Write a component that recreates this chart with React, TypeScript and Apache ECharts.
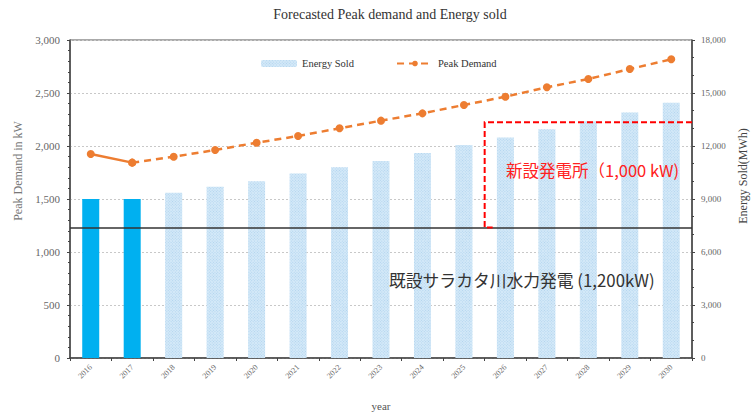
import React, { useEffect, useRef } from "react";
import * as echarts from "echarts";

const years = ["2016", "2017", "2018", "2019", "2020", "2021", "2022", "2023", "2024", "2025", "2026", "2027", "2028", "2029", "2030"];
const energySold = [9000, 9000, 9350, 9700, 10000, 10450, 10800, 11150, 11600, 12050, 12480, 12950, 13400, 13900, 14450];
const peakDemand = [1925, 1843, 1899, 1962, 2031, 2094, 2167, 2239, 2308, 2387, 2465, 2554, 2632, 2726, 2818];
const actualCount = 2;
const existingLevel = 1230;
const newPlantTop = 2224;
const newPlantFromYear = "2025";
const title = "Forecasted Peak demand and Energy sold";
const newPlantLabel = "新設発電所（1,000 kW)";
const existingLabel = "既設サラカタ川水力発電 (1,200kW)";

const SERIF = "'Liberation Serif', 'DejaVu Serif', serif";
const SANS = "'Noto Sans CJK JP', 'Liberation Sans', sans-serif";

const hatch = {
  symbol: "rect",
  symbolSize: 1,
  color: "rgba(110,170,220,0.35)",
  dashArrayX: [1, 1],
  dashArrayY: [1, 1],
  rotation: Math.PI / 4,
};

export default function App() {
  const ref = useRef<HTMLDivElement>(null);
  useEffect(() => {
    if (!ref.current) return;
    const chart = echarts.init(ref.current, undefined, { renderer: "svg" });
    const actualLine = peakDemand.map((v, i) => (i < actualCount ? v : null));
    const forecastLine = peakDemand.map((v, i) => (i >= actualCount - 1 ? v : null));
    chart.setOption({
      animation: false,
      backgroundColor: "#fff",
      title: {
        text: title,
        left: 385,
        textAlign: "center",
        top: 2,
        textStyle: { fontFamily: SERIF, fontSize: 14, fontWeight: "normal", color: "#333" },
      },
      legend: {
        left: 256,
        top: 53,
        itemWidth: 36,
        itemHeight: 7,
        itemGap: 42,
        data: ["Energy Sold", "Peak Demand"],
        textStyle: { fontFamily: SERIF, fontSize: 10.5, color: "#333" },
      },
      grid: {
        left: 70,
        right: 60,
        top: 40,
        bottom: 58,
        show: true,
        borderColor: "#555",
        borderWidth: 1,
        containLabel: false,
        outerBoundsMode: "none",
      },
      xAxis: {
        type: "category",
        data: years,
        name: "year",
        nameLocation: "middle",
        nameGap: 42,
        nameTextStyle: { fontFamily: SERIF, fontSize: 11, color: "#555" },
        axisLine: { lineStyle: { color: "#444", width: 1.5 } },
        axisTick: { show: true, length: 3, lineStyle: { color: "#444" } },
        axisLabel: { rotate: 45, fontFamily: SERIF, fontSize: 8, color: "#666", margin: 8 },
      },
      yAxis: [
        {
          type: "value",
          min: 0,
          max: 3000,
          interval: 500,
          name: "Peak Demand in kW",
          nameLocation: "middle",
          nameRotate: 90,
          nameGap: 42,
          nameTextStyle: { fontFamily: SERIF, fontSize: 12, color: "#777", padding: [0, 0, 0, 56] },
          axisLine: { show: true, lineStyle: { color: "#444", width: 1.5 } },
          axisTick: { show: true, length: 3, lineStyle: { color: "#444" } },
          minorTick: { show: true, splitNumber: 5, length: 2, lineStyle: { color: "#444" } },
          axisLabel: {
            fontFamily: SERIF,
            fontSize: 11,
            color: "#666",
            margin: 10,
            formatter: (v: number) => v.toLocaleString("en-US"),
          },
          splitLine: { show: true, lineStyle: { color: "#c8c8c8", type: [2, 2] } },
        },
        {
          type: "value",
          min: 0,
          max: 18000,
          interval: 3000,
          position: "right",
          name: "Energy Sold(MWh)",
          nameLocation: "middle",
          nameRotate: 90,
          nameGap: 42,
          nameTextStyle: { fontFamily: SERIF, fontSize: 12, color: "#444", padding: [0, 0, 0, 46] },
          axisLine: { show: true, lineStyle: { color: "#444", width: 1.5 } },
          axisTick: { show: true, length: 3, lineStyle: { color: "#444" } },
          minorTick: { show: true, splitNumber: 3, length: 2, lineStyle: { color: "#444" } },
          axisLabel: {
            fontFamily: SERIF,
            fontSize: 9,
            color: "#666",
            margin: 9,
            formatter: (v: number) => v.toLocaleString("en-US"),
          },
          splitLine: { show: false },
        },
      ],
      series: [
        {
          name: "Energy Sold",
          type: "bar",
          yAxisIndex: 1,
          barWidth: 17,
          itemStyle: { color: "#d4e9f8", decal: hatch },
          data: energySold.map((v, i) =>
            i < actualCount ? { value: v, itemStyle: { color: "#00b0f0", decal: { symbol: "none" } } } : v
          ),
          z: 2,
        },
        {
          name: "Peak Demand Actual",
          type: "line",
          yAxisIndex: 0,
          data: actualLine,
          symbol: "circle",
          symbolSize: 8,
          lineStyle: { color: "#ed7d31", width: 2.5, type: "solid" },
          itemStyle: { color: "#ed7d31" },
          z: 4,
          markLine: {
            silent: true,
            symbol: "none",
            label: { show: false },
            lineStyle: { color: "#333", width: 1.5, type: "solid" },
            data: [{ yAxis: existingLevel }],
          },
        },
        {
          name: "Peak Demand",
          type: "line",
          yAxisIndex: 0,
          data: forecastLine,
          symbol: "circle",
          symbolSize: 8,
          lineStyle: { color: "#ed7d31", width: 2.5, type: [7, 5] },
          itemStyle: { color: "#ed7d31" },
          z: 5,
        },
      ],
    });

    const xOf = (c: string) => chart.convertToPixel({ xAxisIndex: 0 }, c) as number;
    const yOf = (v: number) => chart.convertToPixel({ yAxisIndex: 0 }, v) as number;
    const idx = years.indexOf(newPlantFromYear);
    const band = xOf(years[1]) - xOf(years[0]);
    const xb = (xOf(years[idx]) + xOf(years[idx + 1])) / 2;
    const xr = xOf(years[years.length - 1]) + band / 2;
    const yt = yOf(newPlantTop);
    const yb = yOf(existingLevel);

    chart.setOption({
      graphic: [
        {
          type: "polyline",
          z: 10,
          shape: { points: [[xr, yt], [xb, yt], [xb, yb], [xb + 8, yb]] },
          style: { stroke: "#ff0000", lineWidth: 2, lineDash: [6, 3], fill: null },
        },
        {
          type: "text",
          z: 10,
          left: 506,
          top: 162,
          style: { text: newPlantLabel, fontFamily: SANS, fontSize: 16.5, fill: "#ff2020" },
        },
        {
          type: "text",
          z: 10,
          left: 389,
          top: 272,
          style: { text: existingLabel, fontFamily: SANS, fontSize: 16.8, fill: "#333" },
        },
      ],
    });
    return () => chart.dispose();
  }, []);
  return <div ref={ref} style={{ width: 752, height: 416, position: "absolute", left: 0, top: 0 }} />;
}
